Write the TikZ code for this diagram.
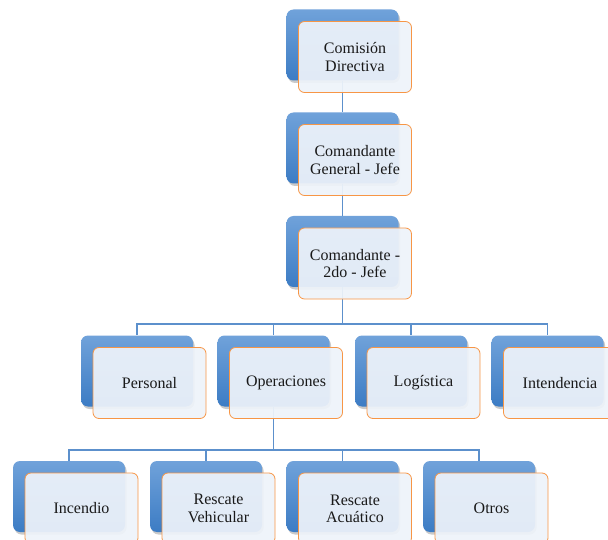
\documentclass[tikz,border=0pt]{standalone}
\usepackage{fontspec}
\setmainfont{Liberation Serif}
\usetikzlibrary{shadows}
\definecolor{bluetop}{RGB}{112,162,218}
\definecolor{bluebot}{RGB}{60,124,196}
\definecolor{frontfill}{RGB}{238,243,250}
\definecolor{orangeedge}{RGB}{247,150,70}
\definecolor{connblue}{RGB}{92,144,204}
\definecolor{txt}{RGB}{25,25,25}
\tikzset{
  backbox/.style={draw=none, rounded corners=7pt, minimum width=112pt, minimum height=71pt,
    top color=bluetop, bottom color=bluebot,
    drop shadow={shadow xshift=1.5pt, shadow yshift=-2.5pt, opacity=0.35, fill=black!60}},
  frontbox/.style={draw=orangeedge, line width=0.8pt, rounded corners=6pt, fill=frontfill,
    fill opacity=0.93, text opacity=1, minimum width=113pt, minimum height=71pt,
    align=center, text=txt, font=\fontsize{16}{17.3}\selectfont, inner sep=2pt},
  conn/.style={draw=connblue, line width=1.3pt}
}
\begin{document}
\begin{tikzpicture}[x=1pt,y=-1pt]
\useasboundingbox (0,0) rectangle (608,540);
% back boxes
\node[backbox] (b1) at (342.5,45) {};
\node[backbox] (b2) at (342.5,148) {};
\node[backbox] (b3) at (342.5,251.5) {};
\node[backbox] (p) at (137,371) {};
\node[backbox] (o) at (273.5,371) {};
\node[backbox] (l) at (411,371) {};
\node[backbox] (i) at (547.5,371) {};
\node[backbox] (r1) at (69,496.5) {};
\node[backbox] (r2) at (206,496.5) {};
\node[backbox] (r3) at (342.5,496.5) {};
\node[backbox] (r4) at (479,496.5) {};
% connectors
\coordinate (j1) at (342.5,324);
\coordinate (j2) at (273.5,450);
\draw[conn] (b1.south) -- (b2.north);
\draw[conn] (b2.south) -- (b3.north);
\draw[conn] (b3.south) -- (j1);
\foreach \n in {p,o,l,i} \draw[conn] (j1) -| (\n.north);
\draw[conn] (o.south) -- (j2);
\foreach \n in {r1,r2,r3,r4} \draw[conn] (j2) -| (\n.north);
% front boxes
\node[frontbox] (f1) at (355,57) {Comisión\\Directiva};
\node[frontbox] (f2) at (355,160) {Comandante\\General - Jefe};
\node[frontbox] (f3) at (355,263.5) {Comandante -\\2do - Jefe};
\node[frontbox] (fp) at (149.5,383) {Personal};
\node[frontbox] (fo) at (286,383) {Operaciones};
\node[frontbox] (fl) at (423.5,383) {Logística};
\node[frontbox] (fi) at (560,383) {Intendencia};
\node[frontbox] (fr1) at (81.5,508.5) {Incendio};
\node[frontbox] (fr2) at (218.5,508.5) {Rescate\\Vehicular};
\node[frontbox] (fr3) at (355,508.5) {Rescate\\Acuático};
\node[frontbox] (fr4) at (491.5,508.5) {Otros};
\end{tikzpicture}
\end{document}
